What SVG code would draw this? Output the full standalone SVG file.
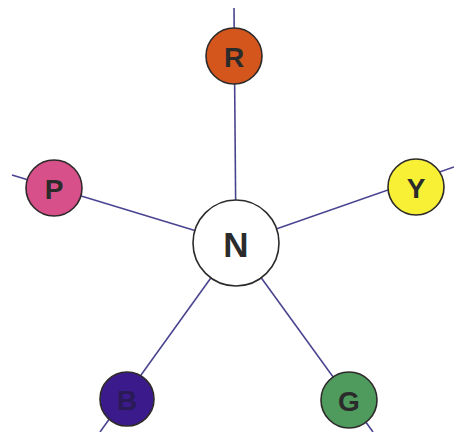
<svg xmlns="http://www.w3.org/2000/svg" width="454" height="432" viewBox="0 0 454 432">
  <style>
    .edge { stroke: #4a4490; stroke-width: 1.6; fill: none; }
    .node circle { stroke: #2e2a2a; stroke-width: 1.6; }
    .node text { font-family: "Liberation Sans", Arial, sans-serif; font-weight: bold; font-size: 28px; fill: #2b2b2b; text-anchor: middle; dominant-baseline: central; }
    #N text { font-size: 35px; }
  </style>
  <rect width="454" height="432" fill="#ffffff"/>
  <g id="connectors">
    <line class="edge" x1="234" y1="8" x2="236" y2="243"/>
    <line class="edge" x1="12" y1="175" x2="236" y2="243"/>
    <line class="edge" x1="454" y1="167" x2="236" y2="243"/>
    <line class="edge" x1="100" y1="432" x2="236" y2="243"/>
    <line class="edge" x1="373" y1="432" x2="236" y2="243"/>
  </g>
  <g id="R" class="node">
    <circle cx="234" cy="56" r="28" fill="#d4561c"/>
    <text x="234" y="57">R</text>
  </g>
  <g id="P" class="node">
    <circle cx="54" cy="188" r="28" fill="#d8508a"/>
    <text x="54" y="189">P</text>
  </g>
  <g id="Y" class="node">
    <circle cx="416" cy="187" r="28" fill="#f7f034"/>
    <text x="416" y="188">Y</text>
  </g>
  <g id="N" class="node">
    <circle cx="236" cy="243" r="43" fill="#ffffff"/>
    <text x="236" y="244">N</text>
  </g>
  <g id="B" class="node">
    <circle cx="127" cy="399" r="27" fill="#3b1b8c"/>
    <text x="127" y="400" style="fill:#2a1a55">B</text>
  </g>
  <g id="G" class="node">
    <circle cx="349" cy="400" r="28" fill="#4f9a5d"/>
    <text x="349" y="401">G</text>
  </g>
</svg>
